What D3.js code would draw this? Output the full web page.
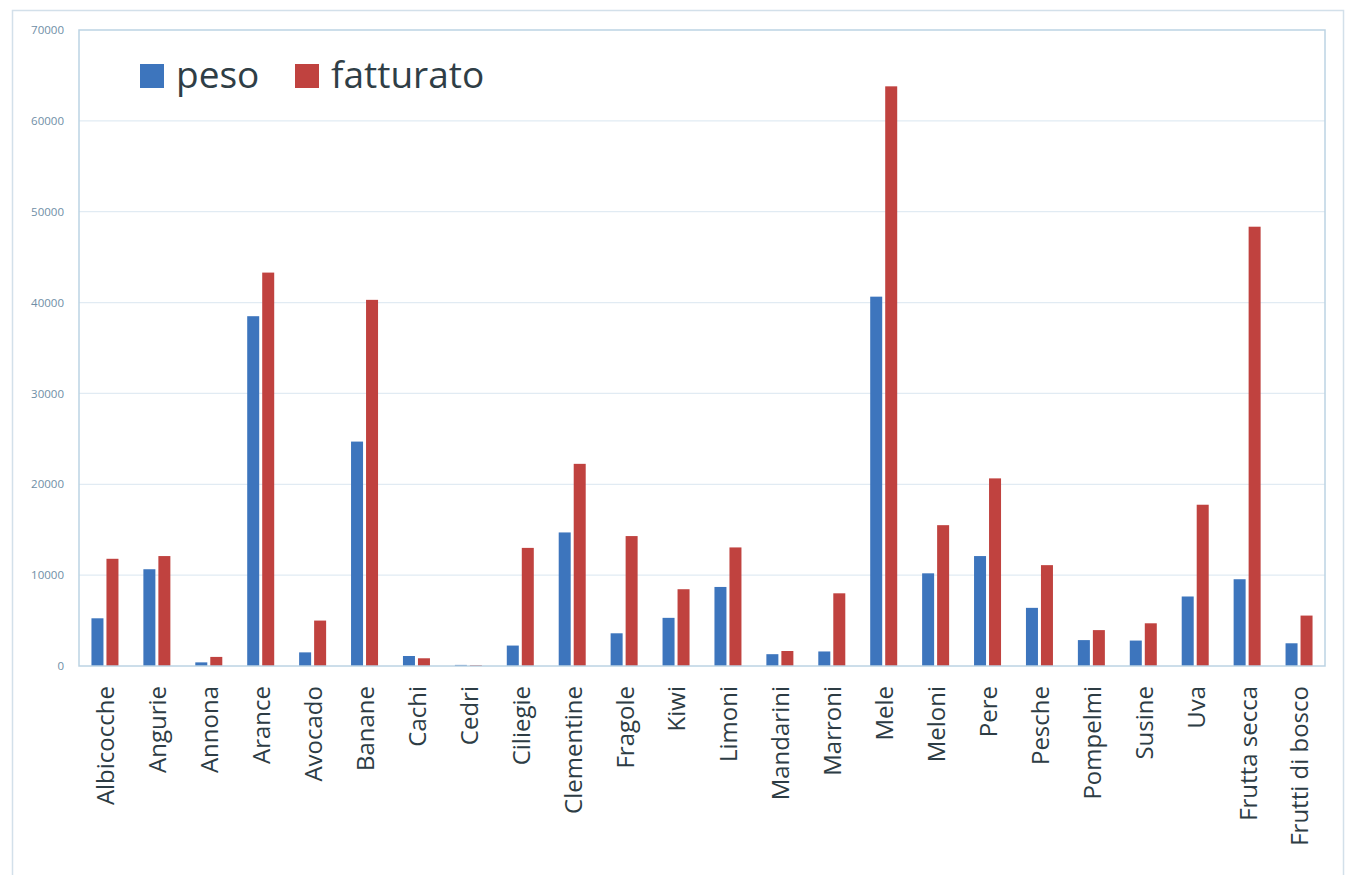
<!DOCTYPE html>
<html>
<head>
<meta charset="utf-8">
<script src="https://cdn.jsdelivr.net/npm/d3@7"></script>
<style>
  body { margin: 0; background: #fff; }
  svg { display: block; }
</style>
</head>
<body>
<div id="chart"></div>
<script>
// data
let categories = ["Albicocche", "Angurie", "Annona", "Arance", "Avocado", "Banane", "Cachi", "Cedri",
  "Ciliegie", "Clementine", "Fragole", "Kiwi", "Limoni", "Mandarini", "Marroni", "Mele", "Meloni",
  "Pere", "Pesche", "Pompelmi", "Susine", "Uva", "Frutta secca", "Frutti di bosco"];
let peso = [5250, 10650, 400, 38500, 1500, 24700, 1100, 120, 2250, 14700, 3600, 5300, 8700, 1300,
  1600, 40650, 10200, 12100, 6400, 2850, 2800, 7650, 9550, 2500];
let fatturato = [11800, 12100, 1000, 43300, 5000, 40300, 850, 100, 13000, 22250, 14300, 8450, 13050,
  1650, 8000, 63800, 15500, 20650, 11100, 3950, 4700, 17750, 48350, 5550];
let seriesNames = ["peso", "fatturato"];
let yTicks = [0, 10000, 20000, 30000, 40000, 50000, 60000, 70000];

let svgWidth = 1347;
let svgHeight = 875;
let margin = { top: 30, right: 22, bottom: 209, left: 79 };
let width = svgWidth - margin.left - margin.right;
let height = svgHeight - margin.top - margin.bottom;
let colors = ["#3d75bd", "#c0423f"];

let svg = d3.select("#chart").append("svg")
  .attr("width", svgWidth)
  .attr("height", svgHeight);

// outer frame
svg.append("rect")
  .attr("x", 12.5).attr("y", 10.5)
  .attr("width", 1331).attr("height", 880)
  .attr("fill", "none")
  .attr("stroke", "#d3e0ea")
  .attr("stroke-width", 1.5);

let chartGroup = svg.append("g")
  .attr("transform", `translate(${margin.left}, ${margin.top})`);

let xScale = d3.scaleBand()
  .domain(categories)
  .range([0, width]);

let inner = d3.scaleBand()
  .domain(seriesNames)
  .range([xScale.bandwidth() / 2 - 13.5, xScale.bandwidth() / 2 + 13.5])
  .paddingInner(0.2);

let yScale = d3.scaleLinear()
  .domain([0, 70000])
  .range([height, 0]);

// gridlines
chartGroup.append("g")
  .selectAll("line")
  .data(yTicks.slice(1, -1))
  .enter()
  .append("line")
  .attr("x1", 0).attr("x2", width)
  .attr("y1", d => yScale(d)).attr("y2", d => yScale(d))
  .attr("stroke", "#e1ebf3")
  .attr("stroke-width", 1.2);

// y axis labels
let leftAxis = d3.axisLeft(yScale).tickValues(yTicks).tickFormat(d3.format("d")).tickSize(0).tickPadding(15);
let yAxis = chartGroup.append("g").call(leftAxis);
yAxis.select(".domain").remove();
yAxis.selectAll("text")
  .attr("fill", "#6f8ea6")
  .style("font-family", "'Open Sans', sans-serif")
  .style("font-size", "11.5px");

// bars
let series = [peso, fatturato];
seriesNames.forEach((name, i) => {
  chartGroup.append("g")
    .selectAll("rect")
    .data(categories)
    .enter()
    .append("rect")
    .attr("x", d => xScale(d) + inner(name))
    .attr("y", (d, j) => yScale(series[i][j]))
    .attr("width", inner.bandwidth())
    .attr("height", (d, j) => height - yScale(series[i][j]))
    .attr("fill", colors[i]);
});

// plot border
chartGroup.append("rect")
  .attr("x", 0).attr("y", 0)
  .attr("width", width).attr("height", height)
  .attr("fill", "none")
  .attr("stroke", "#bcd3e3")
  .attr("stroke-width", 1.5);

// category labels
let bottomAxis = d3.axisBottom(xScale).tickSize(0).tickPadding(0);
let xAxis = chartGroup.append("g")
  .attr("transform", `translate(0, ${height})`)
  .call(bottomAxis);
xAxis.select(".domain").remove();
xAxis.selectAll("text")
  .attr("transform", "rotate(-90)")
  .attr("x", -20)
  .attr("y", 1)
  .attr("dy", "0.35em")
  .attr("text-anchor", "end")
  .attr("fill", "#2d3c44")
  .style("font-family", "'Open Sans', sans-serif")
  .style("font-size", "24px");

// legend
let legend = svg.append("g");
let legendX = [140, 295];
seriesNames.forEach((name, i) => {
  legend.append("rect")
    .attr("x", legendX[i]).attr("y", 64)
    .attr("width", 24).attr("height", 24)
    .attr("fill", colors[i]);
  legend.append("text")
    .attr("x", legendX[i] + 36).attr("y", 88)
    .attr("fill", "#2f3e46")
    .style("font-family", "'Open Sans', sans-serif")
    .style("font-size", "37px")
    .text(name);
});
</script>
</body>
</html>
